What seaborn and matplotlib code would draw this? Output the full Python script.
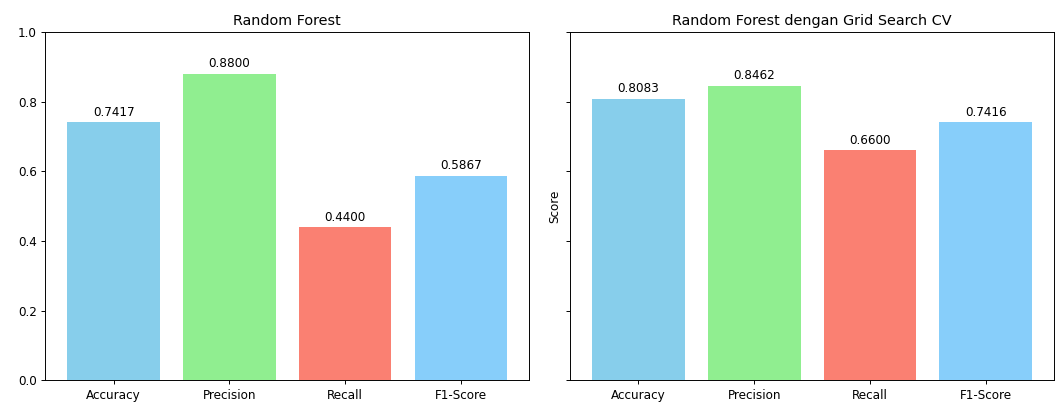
import matplotlib
matplotlib.use("Agg")
import matplotlib.pyplot as plt
import seaborn as sns
import pandas as pd

# Data
metrics = ["Accuracy", "Precision", "Recall", "F1-Score"]
rf_scores = [0.7417, 0.8800, 0.4400, 0.5867]
rf_grid_scores = [0.8083, 0.8462, 0.6600, 0.7416]
titles = ["Random Forest", "Random Forest dengan Grid Search CV"]
colors = ["skyblue", "lightgreen", "salmon", "lightskyblue"]

dpi = 86.5
fig, axes = plt.subplots(1, 2, figsize=(1055 / dpi, 407 / dpi), dpi=dpi, sharey=True)

for ax, scores, title in zip(axes, [rf_scores, rf_grid_scores], titles):
    df = pd.DataFrame({"Metric": metrics, "Score": scores})
    sns.barplot(data=df, x="Metric", y="Score", hue="Metric", palette=colors,
                legend=False, saturation=1, width=0.8, ax=ax)
    for i, v in enumerate(scores):
        ax.text(i, v + 0.01, f"{v:.4f}", ha="center", va="bottom")
    ax.set_title(title)
    ax.set_xlabel("")
    ax.set_xlim(-0.59, 3.59)
    ax.set_ylim(0, 1)

axes[0].set_ylabel("")
axes[1].set_ylabel("Score")
axes[1].yaxis.label.set_visible(True)

fig.subplots_adjust(left=0.043, right=0.999, bottom=0.066, top=0.921, wspace=0.085)
plt.savefig("out.png")
